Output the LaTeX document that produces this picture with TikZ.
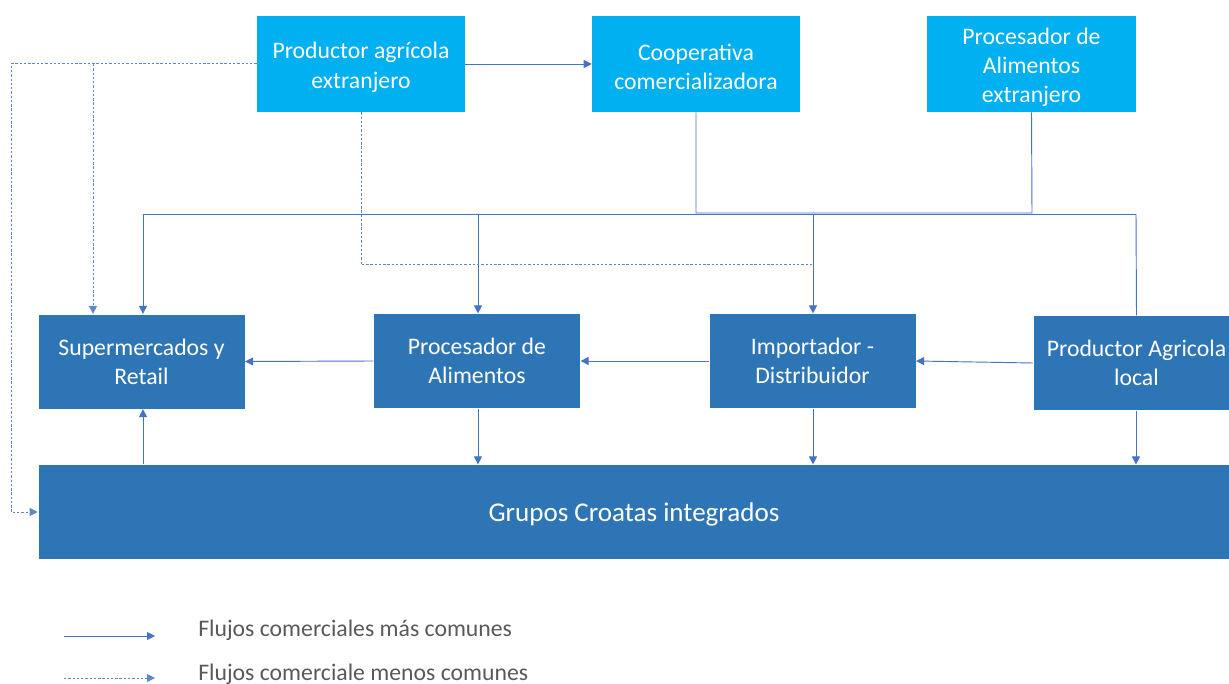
\documentclass[tikz,border=0pt]{standalone}
\usepackage{fontspec}
\setmainfont{Carlito}
\usetikzlibrary{arrows.meta}
\definecolor{cyanbox}{HTML}{00B0F0}
\definecolor{bluebox}{HTML}{2E75B6}
\definecolor{linec}{HTML}{4472C4}
\definecolor{legtext}{HTML}{595959}
\tikzset{
  topbox/.style={fill=cyanbox, draw=none, minimum width=156pt, minimum height=72pt, inner sep=0pt},
  boxtext/.style={text=white, align=center, inner sep=0pt, font=\fontsize{17.8}{22}\selectfont},
  midbox/.style={fill=bluebox, draw=white, line width=0.4pt, text=white, align=center, minimum width=155pt, minimum height=71pt, inner sep=0pt, font=\fontsize{17.8}{21.8}\selectfont},
  conn/.style={draw=linec, line width=0.7pt},
  arr/.style={conn, -{Triangle[length=6pt,width=6pt]}},
  dconn/.style={draw=linec!85, line width=0.75pt, dash pattern=on 1.8pt off 1.4pt},
  darr/.style={dconn, -{Triangle[length=6pt,width=6pt]}},
  legend/.style={text=legtext, anchor=west, inner sep=0pt, font=\fontsize{17.8}{20}\selectfont}
}
\begin{document}
\begin{tikzpicture}[x=0.75pt,y=-0.75pt]
\useasboundingbox[fill=white] (0,0) rectangle (1229,684);
% top row
\node[topbox] (pae) at (361,64) {};
\node[boxtext] (paet) at ([yshift=-2.4pt]pae.center) {Productor agrícola\\extranjero};
\node[topbox] (coop) at (696,64) {};
\node[boxtext] (coopt) at ([yshift=-2.4pt]coop.center) {Cooperativa\\comercializadora};
\node[topbox, minimum width=156.75pt] (pax) at (1031.5,64) {};
\node[boxtext] (paxt) at ([yshift=-2.4pt]pax.center) {Procesador de\\Alimentos\\extranjero};
% middle row
\node[midbox] (sup) at (141.5,361.5) {Supermercados y\\Retail};
\node[midbox] (proc) at (477,361) {Procesador de\\Alimentos};
\node[midbox] (imp) at (812.5,361) {Importador -\\Distribuidor};
\node[midbox] (pal) at (1136.5,363) {Productor Agricola\\local};
% bottom
\node[midbox, minimum width=894pt, minimum height=71pt] (grp) at (634,512) {};
\node[boxtext, font=\fontsize{20.3}{24}\selectfont] (grpt) at ([yshift=-2pt]grp.center) {Grupos Croatas integrados};
% coordinates
\coordinate (b1) at (696,213);
\coordinate (b2) at (1032,213);
\coordinate (bs) at (143,214);
\coordinate (bp) at (478,214);
\coordinate (bi) at (813,214);
\coordinate (bl) at (1136,214);
\coordinate (d1) at (11,64);
\coordinate (d2) at (11,512);
\coordinate (d3) at (93,64);
\coordinate (d4) at (361,265);
\coordinate (d5) at (813,265);
% solid connectors
\draw[arr] (pae.east) -- (coop.west);
\draw[conn] (coop.south) -- (b1) -- (b2) -- (pax.south);
\draw[conn] (bs) -- (bl);
\draw[conn] (pal.north) -- (bl);
\draw[arr] (bs) -- (bs |- sup.north);
\draw[arr] (bp) -- (bp |- proc.north);
\draw[arr] (bi) -- (bi |- imp.north);
\draw[arr] (proc.west) -- (sup.east);
\draw[arr] (imp.west) -- (proc.east);
\draw[arr] (pal.west) -- (imp.east);
\draw[arr] (bs |- grp.north) -- (bs |- sup.south);
\draw[arr] (bp |- proc.south) -- (bp |- grp.north);
\draw[arr] (bi |- imp.south) -- (bi |- grp.north);
\draw[arr] (bl |- pal.south) -- (bl |- grp.north);
% dashed connectors
\draw[darr] (pae.west) -- (d1) -- (d2) -- (grp.west);
\draw[darr] (d3) -- (d3 |- sup.north);
\draw[dconn] (pae.south) -- (d4) -- (d5);
% legend
\coordinate (l1) at (64,636);
\coordinate (l2) at (155,636);
\coordinate (l3) at (64,678);
\coordinate (l4) at (155,678);
\draw[arr] (l1) -- (l2);
\draw[darr] (l3) -- (l4);
\node[legend] (t1) at (198,630) {Flujos comerciales más comunes};
\node[legend] (t2) at (198,674) {Flujos comerciale menos comunes};
\end{tikzpicture}
\end{document}
